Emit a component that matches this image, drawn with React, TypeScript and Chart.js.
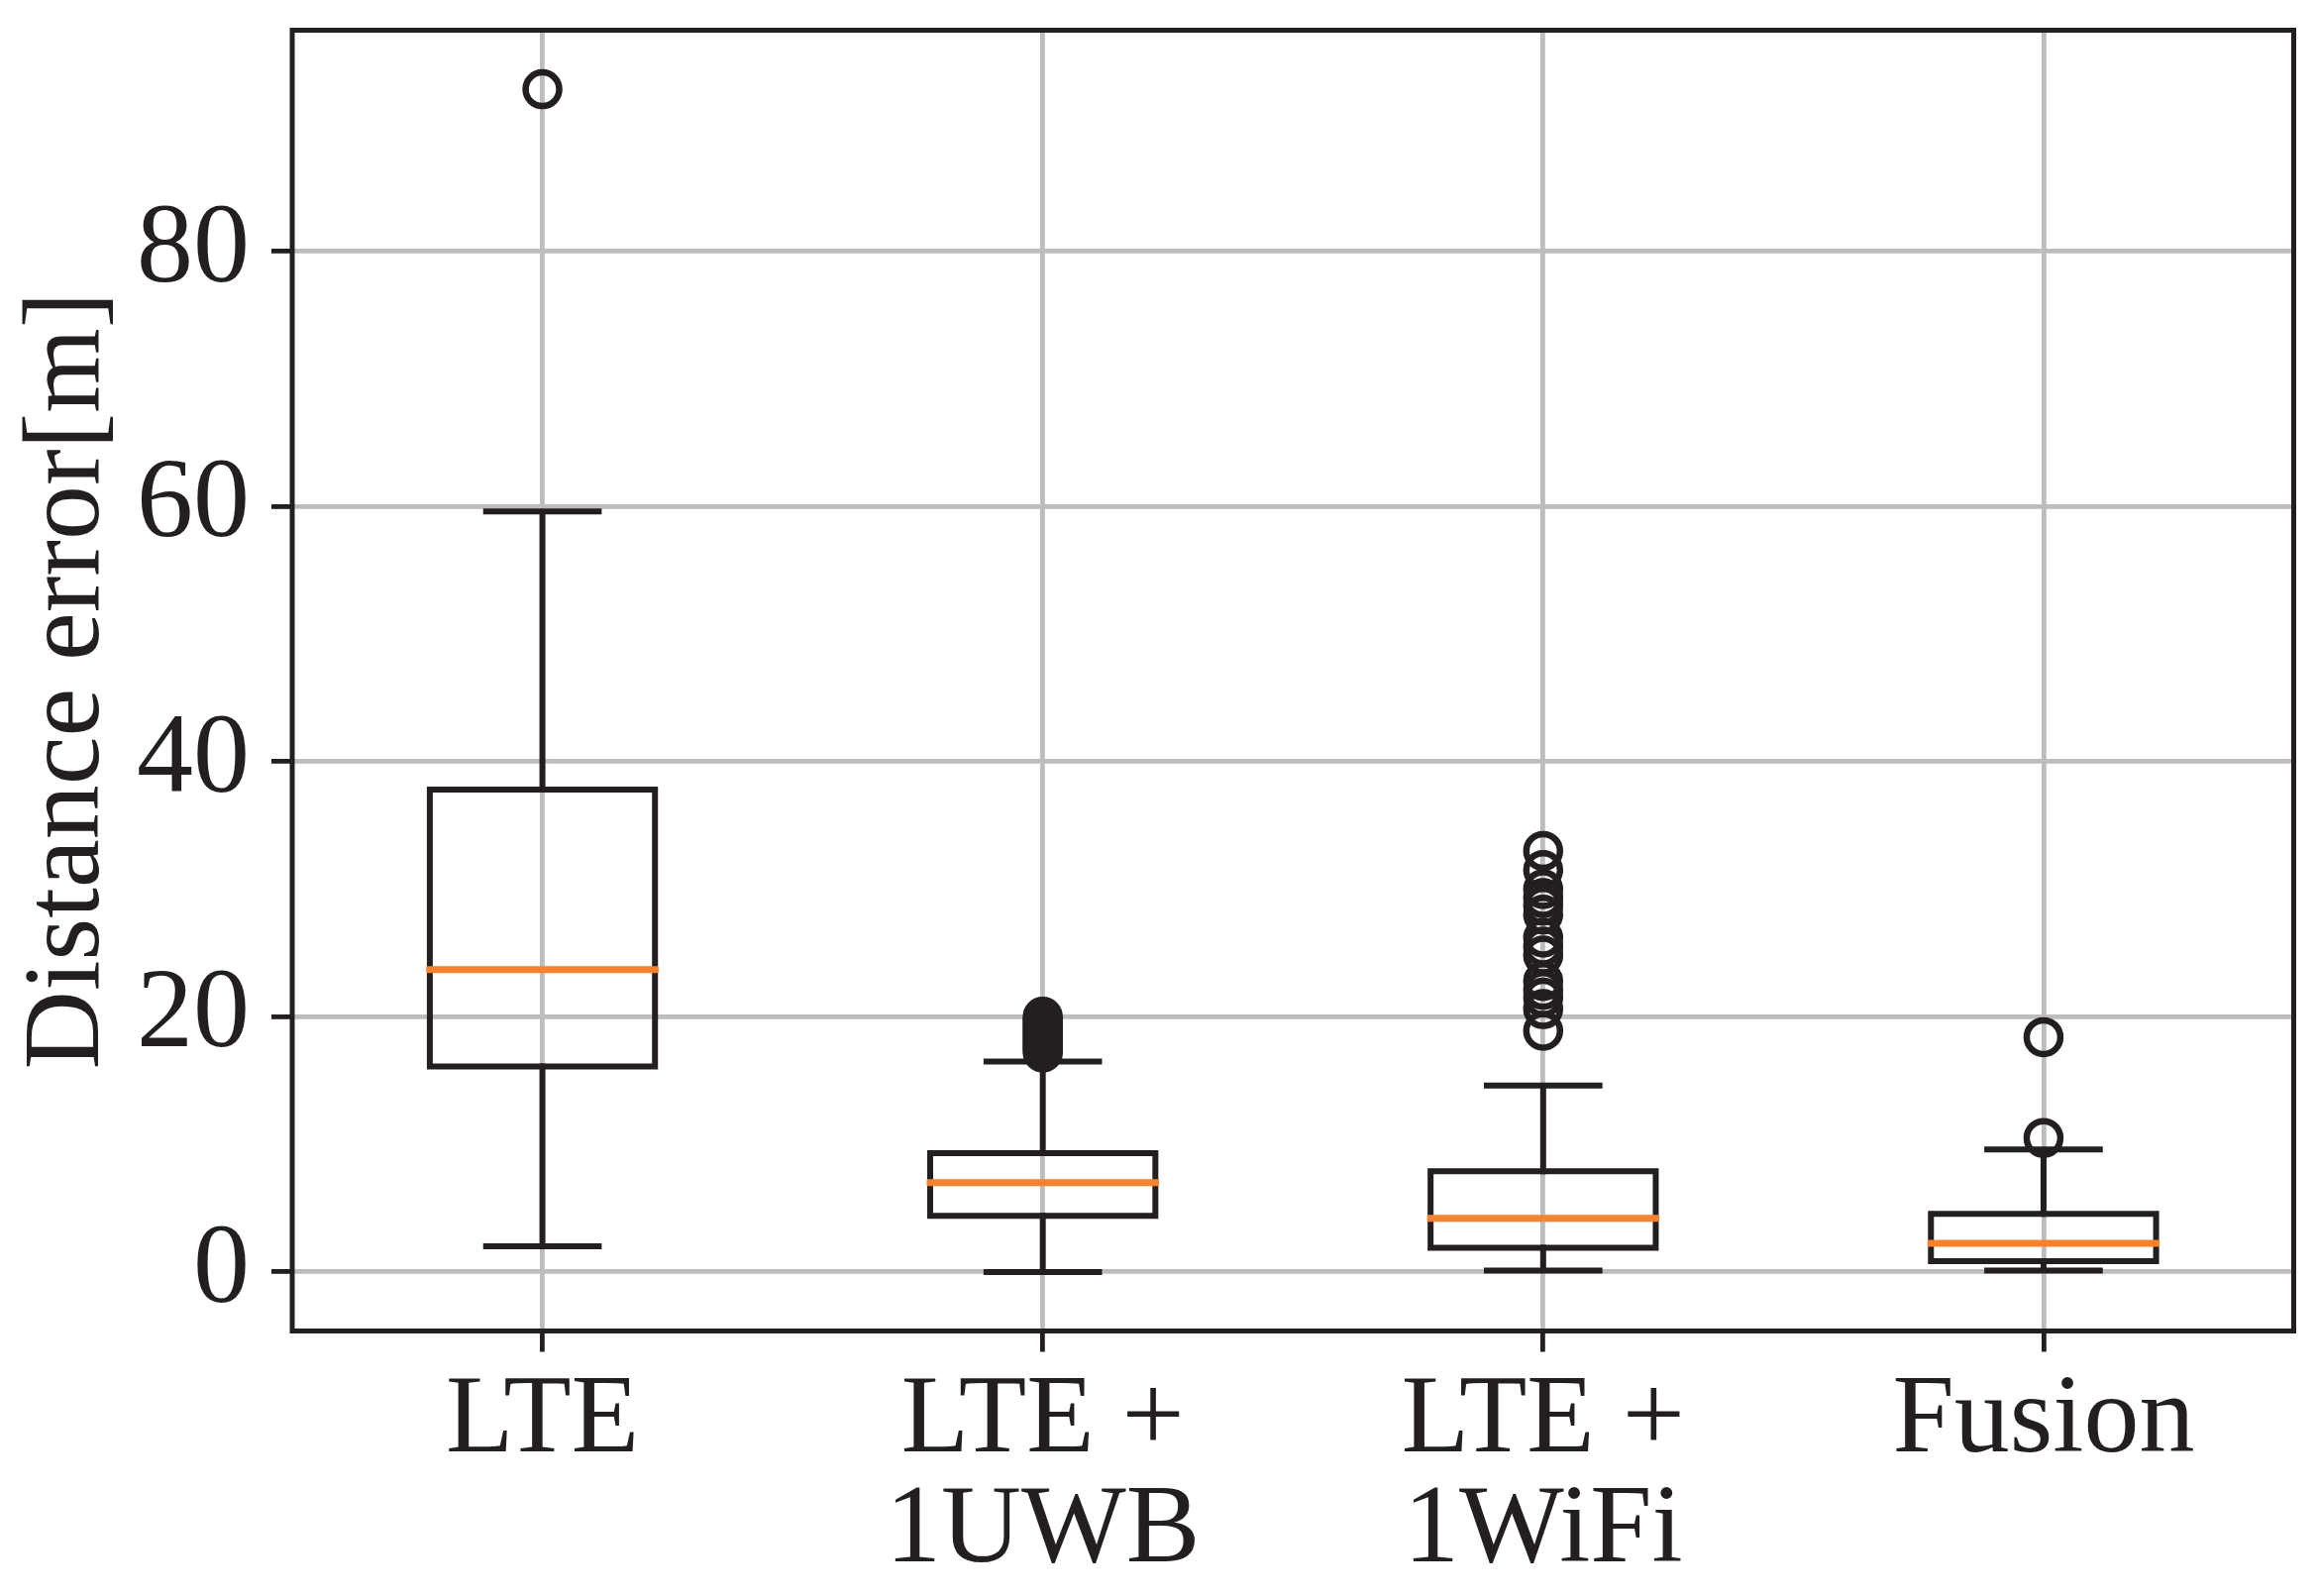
import React, { useEffect, useRef } from 'react';
import { Chart, registerables } from 'chart.js';

Chart.register(...registerables);

// ---- data ----
const categories: string[][] = [['LTE'], ['LTE +', '1UWB'], ['LTE +', '1WiFi'], ['Fusion']];
const whiskerLow = [2.0, 0.0, 0.1, 0.1];
const quartile1 = [16.1, 4.4, 1.9, 0.85];
const medians = [23.7, 7.0, 4.2, 2.25];
const quartile3 = [37.8, 9.3, 7.9, 4.55];
const whiskerHigh = [59.6, 16.5, 14.6, 9.6];
const outliersLTE = [92.7];
const outliersUWB = [17.2, 17.4, 17.6, 17.8, 18.0, 18.2, 18.4, 18.6, 18.8, 19.0, 19.2, 19.4, 19.6, 19.8, 20.0];
const outliersWiFi = [33.0, 31.5, 30.0, 29.3, 28.7, 28.0, 26.2, 25.5, 24.8, 22.8, 22.1, 21.5, 20.6, 18.9];
const outliersFusion = [10.5, 18.4];
const outlierGroups = [outliersLTE, outliersUWB, outliersWiFi, outliersFusion];
const yTicks = [0, 20, 40, 60, 80];
const yLabel = 'Distance error[m]';

const BOX_HALF = 0.225;
const CAP_HALF = 0.1125;
const INK = '#231f20';
const ORANGE = '#f5822e';
const GRID = '#bdbdc0';
const FONT = "'Liberation Serif', 'Times New Roman', serif";

type P = { x: number; y: number | null };

function buildBoxes(): P[] {
  const pts: P[] = [];
  categories.forEach((_, i) => {
    const c = i + 1;
    pts.push({ x: c - BOX_HALF, y: quartile1[i] });
    pts.push({ x: c + BOX_HALF, y: quartile1[i] });
    pts.push({ x: c + BOX_HALF, y: quartile3[i] });
    pts.push({ x: c - BOX_HALF, y: quartile3[i] });
    pts.push({ x: c - BOX_HALF, y: quartile1[i] });
    pts.push({ x: c, y: null });
  });
  return pts;
}

function buildWhiskers(): P[] {
  const pts: P[] = [];
  categories.forEach((_, i) => {
    const c = i + 1;
    pts.push({ x: c, y: whiskerLow[i] }, { x: c, y: quartile1[i] }, { x: c, y: null });
    pts.push({ x: c, y: quartile3[i] }, { x: c, y: whiskerHigh[i] }, { x: c, y: null });
    pts.push({ x: c - CAP_HALF, y: whiskerLow[i] }, { x: c + CAP_HALF, y: whiskerLow[i] }, { x: c, y: null });
    pts.push({ x: c - CAP_HALF, y: whiskerHigh[i] }, { x: c + CAP_HALF, y: whiskerHigh[i] }, { x: c, y: null });
  });
  return pts;
}

function buildMedians(): P[] {
  const pts: P[] = [];
  categories.forEach((_, i) => {
    const c = i + 1;
    pts.push({ x: c - BOX_HALF, y: medians[i] }, { x: c + BOX_HALF, y: medians[i] }, { x: c, y: null });
  });
  return pts;
}

function buildOutliers(): P[] {
  const pts: P[] = [];
  outlierGroups.forEach((g, i) => g.forEach((v) => pts.push({ x: i + 1, y: v })));
  return pts;
}

const framePlugin = {
  id: 'frame',
  afterDatasetsDraw(chart: any) {
    const { ctx, chartArea } = chart;
    ctx.save();
    ctx.strokeStyle = INK;
    ctx.lineWidth = 5;
    ctx.lineJoin = 'miter';
    ctx.strokeRect(chartArea.left, chartArea.top, chartArea.right - chartArea.left, chartArea.bottom - chartArea.top);
    ctx.restore();
  },
};

export default function App() {
  const ref = useRef<HTMLCanvasElement | null>(null);

  useEffect(() => {
    document.body.style.margin = '0';
    const canvas = ref.current;
    if (!canvas) return;
    const lineCommon = {
      showLine: true,
      pointRadius: 0,
      pointHoverRadius: 0,
      spanGaps: false,
      tension: 0,
      borderCapStyle: 'square' as const,
      borderJoinStyle: 'miter' as const,
      fill: false,
    };
    const chart = new Chart(canvas, {
      type: 'scatter',
      data: {
        datasets: [
          { ...lineCommon, label: 'medians', data: buildMedians() as any, borderColor: ORANGE, borderWidth: 7, order: 0 },
          {
            label: 'outliers',
            data: buildOutliers() as any,
            showLine: false,
            pointStyle: 'circle',
            pointRadius: 17,
            pointBorderWidth: 6.5,
            pointBorderColor: INK,
            pointBackgroundColor: 'rgba(0,0,0,0)',
            order: 1,
          },
          { ...lineCommon, label: 'boxes', data: buildBoxes() as any, borderColor: INK, borderWidth: 6, order: 2 },
          { ...lineCommon, label: 'whiskers', data: buildWhiskers() as any, borderColor: INK, borderWidth: 6, order: 3 },
        ],
      },
      options: {
        responsive: false,
        animation: false,
        devicePixelRatio: 1,
        layout: { padding: { left: 0, top: 30.5, right: 8, bottom: 0 } },
        plugins: { legend: { display: false }, tooltip: { enabled: false } },
        scales: {
          x: {
            type: 'linear',
            min: 0.5,
            max: 4.5,
            border: { display: false },
            grid: { color: GRID, lineWidth: 4.8, tickLength: 21, tickColor: INK, tickWidth: 4.8, drawTicks: true },
            afterBuildTicks: (axis: any) => {
              axis.ticks = categories.map((_, i) => ({ value: i + 1 }));
            },
            afterFit: (axis: any) => {
              axis.height = 1611 - 1343.5;
              axis.paddingLeft = 0;
              axis.paddingRight = 0;
            },
            ticks: {
              autoSkip: false,
              maxRotation: 0,
              minRotation: 0,
              padding: 16,
              color: INK,
              font: { family: FONT, size: 112, lineHeight: 0.99 },
              callback: (v: any) => {
                const lab = categories[Math.round(Number(v)) - 1];
                return lab ? (lab.length === 1 ? lab[0] : lab) : '';
              },
            },
          },
          y: {
            type: 'linear',
            min: -4.63,
            max: 97.33,
            border: { display: false },
            grid: { color: GRID, lineWidth: 4.8, tickLength: 21, tickColor: INK, tickWidth: 4.8, drawTicks: true },
            afterBuildTicks: (axis: any) => {
              axis.ticks = yTicks.map((v) => ({ value: v }));
            },
            afterFit: (axis: any) => {
              axis.width = 295;
              axis.paddingTop = 0;
              axis.paddingBottom = 0;
            },
            ticks: {
              padding: 22,
              color: INK,
              font: { family: FONT, size: 114 },
              callback: (v: any) => String(v),
            },
            title: {
              display: true,
              text: yLabel,
              color: INK,
              padding: { top: 4, bottom: 0 },
              font: { family: FONT, size: 110, lineHeight: 1.2 },
            },
          },
        },
      },
      plugins: [framePlugin],
    });
    return () => chart.destroy();
  }, []);

  return <canvas ref={ref} width={2339} height={1611} style={{ display: 'block', width: '2339px', height: '1611px' }} />;
}
